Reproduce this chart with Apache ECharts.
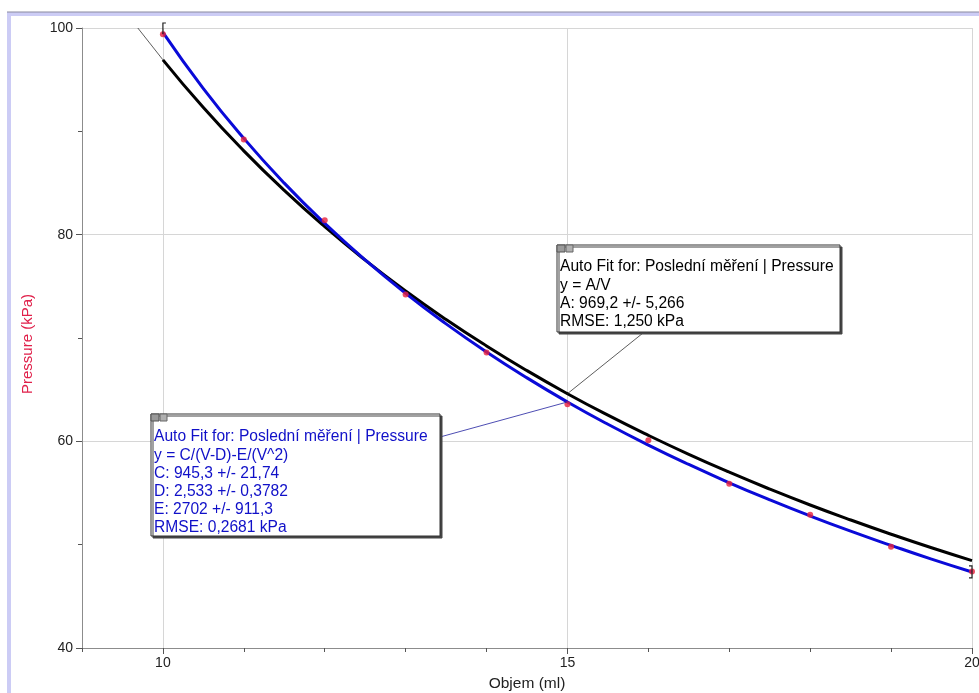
<!DOCTYPE html>
<html><head><meta charset="utf-8">
<script src="https://cdn.jsdelivr.net/npm/echarts@6/dist/echarts.min.js"></script>
<style>html,body{margin:0;padding:0;background:#fff}#c{width:979px;height:693px}</style>
</head><body><div id="c"></div>
<script>
// measured points (Objem ml, Pressure kPa)
var volumes = [10, 11, 12, 13, 14, 15, 16, 17, 18, 19, 20];
var pressures = [99.4, 89.2, 81.4, 74.2, 68.6, 63.6, 60.1, 55.9, 52.9, 49.8, 47.4];

// fit curve samples
var fitX = [10, 10.5, 11, 11.5, 12, 12.5, 13, 13.5, 14, 14.5, 15, 15.5, 16, 16.5, 17, 17.5, 18, 18.5, 19, 19.5, 20];
var fitBlack = [96.92, 92.30, 88.11, 84.28, 80.77, 77.54, 74.55, 71.79, 69.23, 66.84, 64.61, 62.53, 60.58, 58.74, 57.01, 55.38, 53.84, 52.39, 51.01, 49.70, 48.46];
var fitBlue = [99.58, 94.14, 89.32, 84.99, 81.09, 77.55, 74.32, 71.37, 68.65, 66.14, 63.81, 61.65, 59.64, 57.76, 55.99, 54.34, 52.78, 51.31, 49.93, 48.60, 47.36];
var blackExtX = [9.69, 10];
var blackExtY = [100, 96.92];

var xLabels = [10, 15, 20];

var yName = 'Pressure (kPa)';
var xName = 'Objem (ml)';
var box1Lines = ['Auto Fit for: Poslední měření | Pressure', 'y = A/V', 'A: 969,2 +/- 5,266', 'RMSE: 1,250 kPa'];
var box2Lines = ['Auto Fit for: Poslední měření | Pressure', 'y = C/(V-D)-E/(V^2)', 'C: 945,3 +/- 21,74', 'D: 2,533 +/- 0,3782', 'E: 2702 +/- 911,3', 'RMSE: 0,2681 kPa'];

function zip(a, b) { return a.map(function (v, i) { return [v, b[i]]; }); }

var FONT = '"Liberation Sans", Arial, sans-serif';
var chart = echarts.init(document.getElementById('c'));

var option = {
  animation: false,
  backgroundColor: '#fff',
  grid: { left: 82, right: 7, top: 28, bottom: 45, outerBoundsMode: 'none', containLabel: false },
  xAxis: [{
    type: 'value', min: 9, max: 20, interval: 1,
    axisLine: { show: true, lineStyle: { color: '#8c8c8c' } },
    axisTick: { show: true, length: 4, lineStyle: { color: '#555' } },
    axisLabel: { show: false },
    splitLine: { show: false }
  }, {
    type: 'value', min: 9, max: 20, position: 'bottom',
    name: xName, nameLocation: 'middle', nameGap: 28,
    nameTextStyle: { color: '#222', fontSize: 15.5, fontFamily: FONT },
    axisLine: { show: false },
    axisTick: { show: true, length: 6, customValues: xLabels, lineStyle: { color: '#555' } },
    axisLabel: { show: true, customValues: xLabels, margin: 8, color: '#222', fontSize: 14, fontFamily: FONT },
    splitLine: { show: true, lineStyle: { color: '#d6d6d6' } }
  }],
  yAxis: {
    type: 'value', min: 40, max: 100, interval: 20,
    axisLine: { show: true, lineStyle: { color: '#8c8c8c' } },
    axisTick: { show: true, length: 6, lineStyle: { color: '#555' } },
    minorTick: { show: true, splitNumber: 2, length: 4, lineStyle: { color: '#555' } },
    axisLabel: { margin: 9, color: '#222', fontSize: 14, fontFamily: FONT },
    splitLine: { show: true, lineStyle: { color: '#d6d6d6' } }
  },
  series: [{
    type: 'line', data: zip(blackExtX, blackExtY), xAxisIndex: 0,
    showSymbol: false, lineStyle: { color: '#333', width: 0.8 }, z: 2
  }, {
    type: 'line', data: zip(fitX, fitBlack), xAxisIndex: 0, smooth: true,
    showSymbol: false, lineStyle: { color: '#000', width: 3 }, z: 3
  }, {
    type: 'line', data: zip(fitX, fitBlue), xAxisIndex: 0, smooth: true,
    showSymbol: false, lineStyle: { color: '#0a0ad8', width: 3 }, z: 4
  }, {
    type: 'scatter', data: zip(volumes, pressures), xAxisIndex: 0,
    symbolSize: 6, itemStyle: { color: '#e8203c' }, z: 5
  }]
};
chart.setOption(option);

function box(x, y, w, h, lines, color, firstY, lineH) {
  var els = [];
  els.push({ type: 'rect', shape: { x: x, y: y, width: w, height: h },
    style: { fill: '#fff', stroke: '#333', lineWidth: 1, shadowColor: '#444', shadowOffsetX: 2, shadowOffsetY: 2, shadowBlur: 0 }, z: 100 });
  els.push({ type: 'rect', shape: { x: x, y: y, width: 8, height: 7 }, style: { fill: '#9a9a9a', stroke: '#555', lineWidth: 1 }, z: 101 });
  els.push({ type: 'rect', shape: { x: x + 9, y: y, width: 7, height: 7 }, style: { fill: '#b0b0b0', stroke: '#666', lineWidth: 1 }, z: 101 });
  lines.forEach(function (t, i) {
    els.push({ type: 'text', x: x + 3, y: firstY + i * lineH, z: 102,
      style: { text: t, fill: color, font: '15.6px ' + FONT, textVerticalAlign: 'middle' } });
  });
  return els;
}

var p15black = chart.convertToPixel({ xAxisIndex: 0, yAxisIndex: 0 }, [15, fitBlack[10]]);
var p15blue = chart.convertToPixel({ xAxisIndex: 0, yAxisIndex: 0 }, [15, fitBlue[10]]);
var b10 = chart.convertToPixel({ xAxisIndex: 0, yAxisIndex: 0 }, [10, 100]);
var b20 = chart.convertToPixel({ xAxisIndex: 0, yAxisIndex: 0 }, [20, fitBlue[20]]);

var g = [
  // window frame
  { type: 'rect', shape: { x: 7, y: 12, width: 972, height: 4 }, style: { fill: '#ccccf5' }, z: 50 },
  { type: 'line', shape: { x1: 7, y1: 12, x2: 979, y2: 12 }, style: { stroke: '#8a8aa0', lineWidth: 1 }, z: 51 },
  { type: 'rect', shape: { x: 7, y: 12, width: 4, height: 681 }, style: { fill: '#ccccf5' }, z: 50 },
  // y axis name
  { type: 'text', x: 28, y: 344, rotation: Math.PI / 2, z: 60,
    style: { text: yName, fill: '#e0204a', font: '15px ' + FONT, textAlign: 'center', textVerticalAlign: 'middle' } },
  // leader lines
  { type: 'line', shape: { x1: 643, y1: 333, x2: p15black[0], y2: p15black[1] }, style: { stroke: '#333', lineWidth: 0.8 }, z: 60 },
  { type: 'line', shape: { x1: 440, y1: 437, x2: p15blue[0], y2: p15blue[1] }, style: { stroke: '#2020a0', lineWidth: 0.8 }, z: 60 },
  // range brackets
  { type: 'polyline', shape: { points: [[b10[0] + 3, b10[1] - 5], [b10[0], b10[1] - 5], [b10[0], b10[1] + 6]] }, style: { stroke: '#222', lineWidth: 1.2, fill: null }, z: 60 },
  { type: 'polyline', shape: { points: [[b20[0] - 3, b20[1] - 6], [b20[0], b20[1] - 6], [b20[0], b20[1] + 6], [b20[0] - 3, b20[1] + 6]] }, style: { stroke: '#222', lineWidth: 1.2, fill: null }, z: 60 }
].concat(box(557, 245, 283, 87, box1Lines, '#000', 267, 18.3))
 .concat(box(151, 414, 289, 122, box2Lines, '#1010c8', 437, 18.2));

chart.setOption({ graphic: g });
</script>
</body></html>
